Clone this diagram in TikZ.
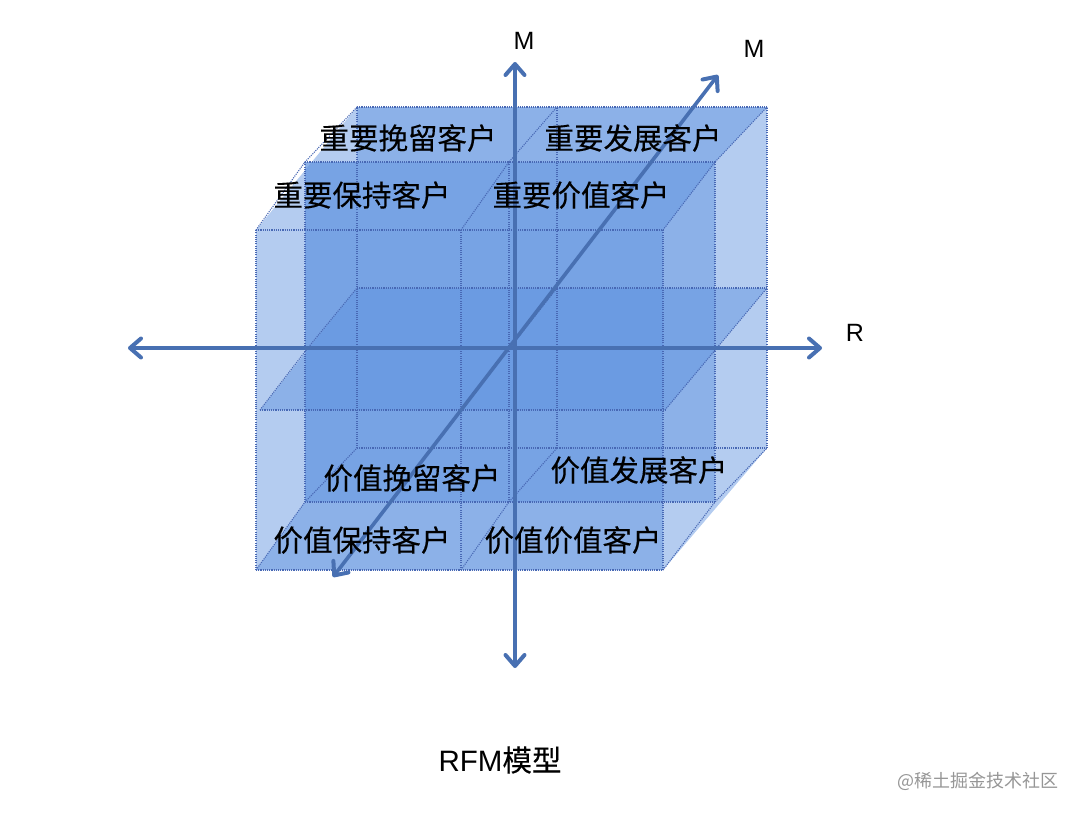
\documentclass[tikz,border=0pt]{standalone}
\usepackage{fontspec}
\setmainfont{Liberation Sans}
\newfontfamily\cjk[FakeBold=0.2]{Noto Sans CJK SC}
\newfontfamily\cjkw{Noto Sans CJK SC}
\usetikzlibrary{arrows.meta}
\definecolor{axisblue}{RGB}{72,112,178}
\definecolor{boxfill}{RGB}{94,146,223}
\definecolor{edgeblue}{RGB}{72,104,180}
\definecolor{wmgray}{RGB}{150,150,150}
\begin{document}
\begin{tikzpicture}[x=1pt,y=-1pt,
  layer/.style={fill=boxfill, fill opacity=0.467},
  gridline/.style={draw=edgeblue, line width=1.1pt, dash pattern=on 1.1pt off 1.1pt},
  axis/.style={draw=axisblue, line width=3.6pt,
    {Straight Barb[length=11pt,width=19pt,line width=4pt,round]}-{Straight Barb[length=11pt,width=19pt,line width=4pt,round]}},
  seg/.style={font=\cjk\fontsize{29.5}{33}\selectfont, text=black, inner sep=0pt},
  axlabel/.style={font=\fontsize{25}{28}\selectfont, text=black, inner sep=0pt}]
\useasboundingbox (0,0) rectangle (1080,814);

% grid points p<i><j><k>: i = across, j = height (0 bottom), k = depth (0 front)
\coordinate (p000) at (256,570); \coordinate (p100) at (461,570); \coordinate (p200) at (663,570);
\coordinate (p010) at (260,410); \coordinate (p110) at (461,410); \coordinate (p210) at (665,410);
\coordinate (p020) at (256,230); \coordinate (p120) at (461,230); \coordinate (p220) at (663,230);
\coordinate (p001) at (305,502); \coordinate (p101) at (509,502); \coordinate (p201) at (715,502);
\coordinate (p011) at (307,349); \coordinate (p111) at (509,349); \coordinate (p211) at (716,349);
\coordinate (p021) at (305,162); \coordinate (p121) at (509,162); \coordinate (p221) at (715,162);
\coordinate (p002) at (357,448); \coordinate (p102) at (557,448); \coordinate (p202) at (767,448);
\coordinate (p012) at (357,288); \coordinate (p112) at (557,288); \coordinate (p212) at (767,288);
\coordinate (p022) at (357,107); \coordinate (p122) at (557,107); \coordinate (p222) at (767,107);

% translucent layers
\fill[layer] (p000) -- (p200) -- (p202) -- (p222) -- (p022) -- (p020) -- cycle;
\fill[layer] (p022) -- (p222) -- (p221) -- (p201) -- (663,502) -- (p200) -- (p000)
  -- (p001) -- (p021) -- (357,162) -- cycle;
\fill[layer] (p021) -- (p221) -- (p220) -- (663,502) -- (p001) -- cycle;
\fill[layer] (p010) -- (p210) -- (p212) -- (p012) -- cycle;

% dotted edges
\foreach \a in {0,1,2}{
  \foreach \b in {0,1,2}{
    \draw[gridline] (p0\a\b) -- (p2\a\b);
    \draw[gridline] (p\a0\b) -- (p\a2\b);
    \draw[gridline] (p\a\b0) -- (p\a\b1) -- (p\a\b2);
  }}

% axes
\coordinate (vtop) at (515,62);
\coordinate (vbot) at (515,668);
\coordinate (hl) at (128,348);
\coordinate (hr) at (822,348);
\coordinate (dtr) at (718,75);
\coordinate (dbl) at (333,577);
\draw[axis] (vbot) -- (vtop);
\draw[axis] (hl) -- (hr);
\draw[axis] (dbl) -- (dtr);

\node[axlabel] (lm1) at (524,41) {M};
\node[axlabel] (lm2) at (754,49) {M};
\node[axlabel] (lr) at (855,333) {R};

% segment labels
\node[seg] (t1) at (408,138) {重要挽留客户};
\node[seg] (t2) at (633,138) {重要发展客户};
\node[seg] (t3) at (362,195) {重要保持客户};
\node[seg] (t4) at (581,195) {重要价值客户};
\node[seg] (b1) at (412,478) {价值挽留客户};
\node[seg] (b2) at (639,470) {价值发展客户};
\node[seg] (b3) at (362,540) {价值保持客户};
\node[seg] (b4) at (573,540) {价值价值客户};

\node[inner sep=0pt, font=\fontsize{29.5}{33}\selectfont] (title) at (500,760) {RFM{\cjk 模型}};
\node[inner sep=0pt, text=wmgray, font=\cjkw\fontsize{18}{20}\selectfont] (wm) at (978,781) {@稀土掘金技术社区};
\end{tikzpicture}
\end{document}
